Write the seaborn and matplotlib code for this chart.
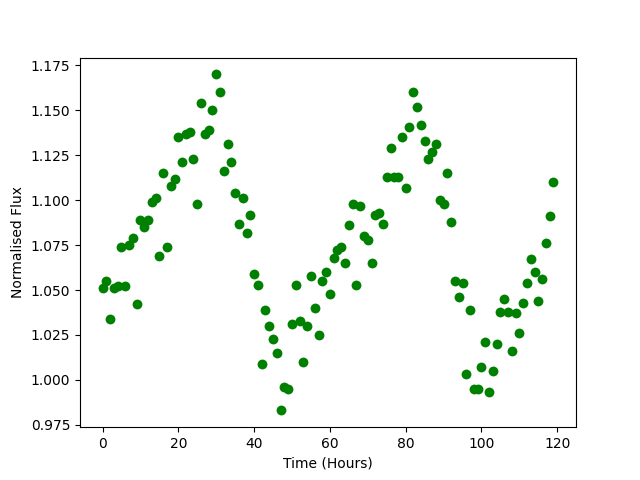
import numpy as np
import pandas as pd
import matplotlib
matplotlib.use("Agg")
import matplotlib.pyplot as plt
import seaborn as sns

hours = list(range(120))
flux = [
    1.051, 1.055, 1.034, 1.051, 1.052, 1.074, 1.052, 1.075, 1.079, 1.042,
    1.089, 1.085, 1.089, 1.099, 1.101, 1.069, 1.115, 1.074, 1.108, 1.112,
    1.135, 1.121, 1.137, 1.138, 1.123, 1.098, 1.154, 1.137, 1.139, 1.150,
    1.170, 1.160, 1.116, 1.131, 1.121, 1.104, 1.087, 1.101, 1.082, 1.092,
    1.059, 1.053, 1.009, 1.039, 1.030, 1.023, 1.015, 0.983, 0.996, 0.995,
    1.031, 1.053, 1.033, 1.010, 1.030, 1.058, 1.040, 1.025, 1.055, 1.060,
    1.048, 1.068, 1.072, 1.074, 1.065, 1.086, 1.098, 1.053, 1.097, 1.080,
    1.078, 1.065, 1.092, 1.093, 1.087, 1.113, 1.129, 1.113, 1.113, 1.135,
    1.107, 1.141, 1.160, 1.152, 1.142, 1.133, 1.123, 1.127, 1.131, 1.100,
    1.098, 1.115, 1.088, 1.055, 1.046, 1.054, 1.003, 1.039, 0.995, 0.995,
    1.007, 1.021, 0.993, 1.005, 1.020, 1.038, 1.045, 1.038, 1.016, 1.037,
    1.026, 1.043, 1.054, 1.067, 1.060, 1.044, 1.056, 1.076, 1.091, 1.110,
]

data = pd.DataFrame({'Time (Hours)': hours, 'Normalised Flux': flux})

fig, ax = plt.subplots(figsize=(6.4, 4.8), dpi=100)
sns.scatterplot(x='Time (Hours)', y='Normalised Flux', data=data,
                color='green', s=50, linewidth=0, ax=ax)
ax.set_xlabel('Time (Hours)')
ax.set_ylabel('Normalised Flux')
ax.set_xticks([0, 20, 40, 60, 80, 100, 120])
ax.set_yticks([0.975, 1.0, 1.025, 1.05, 1.075, 1.1, 1.125, 1.15, 1.175])
ax.yaxis.set_major_formatter(matplotlib.ticker.FormatStrFormatter('%.3f'))

plt.savefig('out.png', dpi=100)
